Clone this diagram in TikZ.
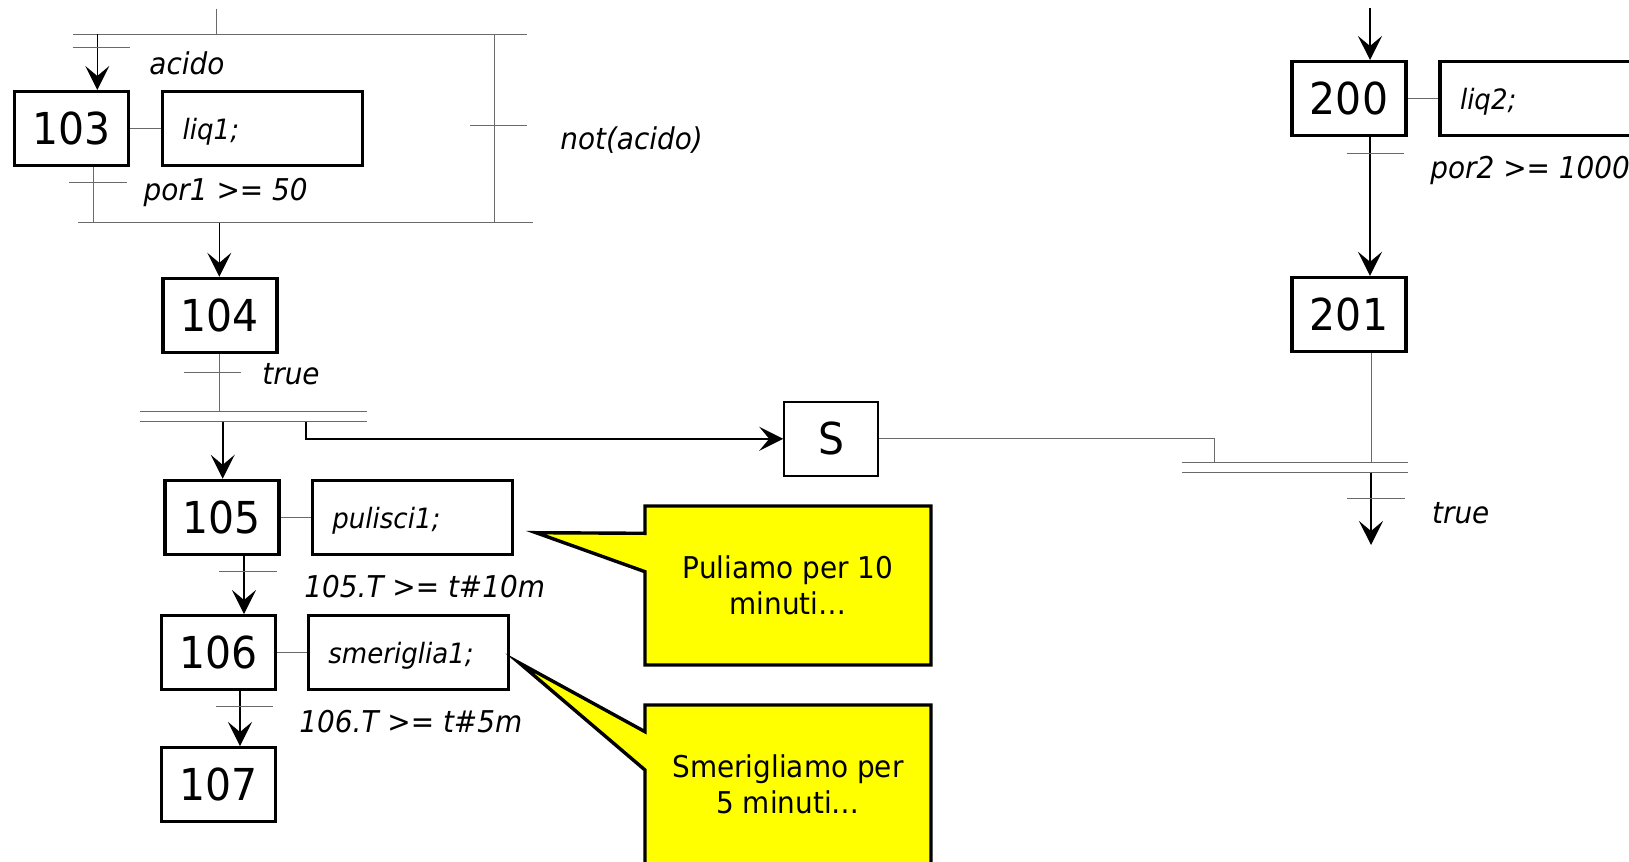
\documentclass[tikz,border=0pt]{standalone}
\usepackage{fontspec}
\setmainfont{DejaVu Sans}[FakeStretch=0.93]
\usetikzlibrary{arrows.meta}

\definecolor{wiregray}{HTML}{6A6A6A}
\definecolor{noteyellow}{HTML}{FFFF00}

\tikzset{
	stepbox/.style={draw, line width=1.7pt, minimum width=57pt, minimum height=37pt, inner sep=0pt, font=\fontsize{22}{26}\selectfont},
	actbox/.style={draw, line width=1.7pt, anchor=west, minimum height=37pt, inner xsep=10pt, text width=80pt, align=left, text depth=0pt, font=\itshape\fontsize{14}{16}\selectfont},
	wire/.style={draw=wiregray, line width=0.5pt},
	flow/.style={draw=black, line width=0.8pt, -{Stealth[length=12pt, width=12pt, inset=5pt]}},
	cond/.style={anchor=base west, inner sep=0pt, font=\itshape\fontsize{15}{18}\selectfont},
	notebox/.style={fill=noteyellow, draw=black, line width=1.7pt, line join=miter},
	notetext/.style={align=center, inner sep=0pt, font=\fontsize{15}{18}\selectfont},
}

\begin{document}
\begin{tikzpicture}[x=0.5pt, y=-0.5pt]
		\useasboundingbox (0,0) rectangle (1629,862);
		\clip (0,0) rectangle (1629,862);
		\fill[white] (0,0) rectangle (1629,862);

		% steps and actions
		\node[stepbox] (s103) at (71.7,128.7) {103};
		\node[actbox] (a103) at (161,128.7) {liq1;};
		\node[stepbox] (s104) at (220,315.5) {104};
		\node[stepbox] (s105) at (221.8,517.5) {105};
		\node[actbox] (a105) at (310.7,517.5) {pulisci1;};
		\node[stepbox] (s106) at (218.2,652.7) {106};
		\node[actbox] (a106) at (306.7,652.7) {smeriglia1;};
		\node[stepbox] (s107) at (218.2,784.7) {107};
		\node[stepbox] (s200) at (1349,98.7) {200};
		\node[actbox] (a200) at (1438.3,98.7) {liq2;};
		\node[stepbox] (s201) at (1349,314.5) {201};
		\node[draw, line width=0.8pt, minimum width=47pt, minimum height=37pt, inner sep=0pt, font=\fontsize{22}{26}\selectfont] (S) at (831,438.8) {S};

		\draw[wire] (s103.east) -- (a103.west);
		\draw[wire] (s105.east) -- (a105.west);
		\draw[wire] (s106.east) -- (a106.west);
		\draw[wire] (s200.east) -- (a200.west);

		% selection acido / not(acido)
		\coordinate (in1) at (216,9.3);
		\coordinate (divL) at (72.7,34.3);
		\coordinate (divR) at (526.7,34.3);
		\coordinate (convL) at (78.3,222.7);
		\coordinate (convR) at (532.7,222.7);
		\coordinate (br1) at (97.3,34.3);
		\coordinate (br1e) at (93.3,222.7);
		\coordinate (br2) at (494.3,34.3);
		\coordinate (out1) at (219.3,222.7);
		\draw[wire] (in1) -- (in1 |- divL);
		\draw[wire] (divL) -- (divR);
		\draw[wire] (convL) -- (convR);
		\draw[flow] (br1) -- (br1 |- s103.north);
		\draw[wire] (72.7,47.7) -- (130,47.7);
		\node[cond] (c1) at (149,75) {acido};
		\draw[wire] (br1e |- s103.south) -- (br1e);
		\draw[wire] (69,182.7) -- (126.7,182.7);
		\node[cond] (c2) at (143.3,200) {por1 >= 50};
		\draw[wire] (br2) -- (br2 |- convL);
		\draw[wire] (470,125.7) -- (526.7,125.7);
		\node[cond] (c3) at (560,149) {not(acido)};
		\draw[flow] (out1) -- (out1 |- s104.north);

		% parallel split
		\coordinate (o104) at (219.7,411.7);
		\coordinate (i105) at (222.7,421.7);
		\coordinate (sp) at (305.7,421.7);
		\draw[wire] (o104 |- s104.south) -- (o104);
		\draw[wire] (184,372) -- (240.7,372);
		\node[cond] (c4) at (262,384) {true};
		\draw[wire] (140,411.7) -- (366.7,411.7);
		\draw[wire] (140,421.7) -- (366.7,421.7);
		\draw[flow] (i105) -- (i105 |- s105.north);
		\draw[flow] (sp) |- (S.west);

		% 105 -> 106 -> 107
		\coordinate (o105) at (244,560);
		\coordinate (o106) at (240,694);
		\draw[flow] (o105 |- s105.south) -- (o105 |- s106.north);
		\draw[wire] (219,571.7) -- (276.7,571.7);
		\node[cond] (c5) at (304,597.7) {105.T >= t\#10m};
		\draw[flow] (o106 |- s106.south) -- (o106 |- s107.north);
		\draw[wire] (215.7,706.7) -- (272.7,706.7);
		\node[cond] (c6) at (299,732.7) {106.T >= t\#5m};

		% second sequence
		\coordinate (in2) at (1370,8.3);
		\coordinate (jn) at (1214.3,462.7);
		\coordinate (o201) at (1371,462.7);
		\coordinate (out2) at (1371,545);
		\draw[flow] (in2) -- (in2 |- s200.north);
		\draw[flow] (in2 |- s200.south) -- (in2 |- s201.north);
		\draw[wire] (1346.7,153.3) -- (1404,153.3);
		\node[cond] (c7) at (1430,178) {por2 >= 1000};
		\draw[wire] (o201 |- s201.south) -- (o201);
		\draw[wire] (S.east) -| (jn);
		\draw[wire] (1181.7,462.7) -- (1408.3,462.7);
		\draw[wire] (1181.7,472.7) -- (1408.3,472.7);
		\draw[flow] (1371,472.7) -- (out2);
		\draw[wire] (1347.3,498.3) -- (1405,498.3);
		\node[cond] (c8) at (1431.7,523) {true};

		% comments
		\draw[notebox] (645,506) -- (931,506) -- (931,665) -- (645,665) -- (645,571.7) -- (536,532.7) -- (645,533.3) -- cycle;
		\node[notetext] (n1) at (788,585.6) {Puliamo per 10\\minuti…};
		\draw[notebox] (645,705) -- (931,705) -- (931,890) -- (645,890) -- (645,770) -- (519,662.7) -- (645,731.7) -- cycle;
		\node[notetext] (n2) at (788,784.6) {Smerigliamo per\\5 minuti…};
\end{tikzpicture}
\end{document}
